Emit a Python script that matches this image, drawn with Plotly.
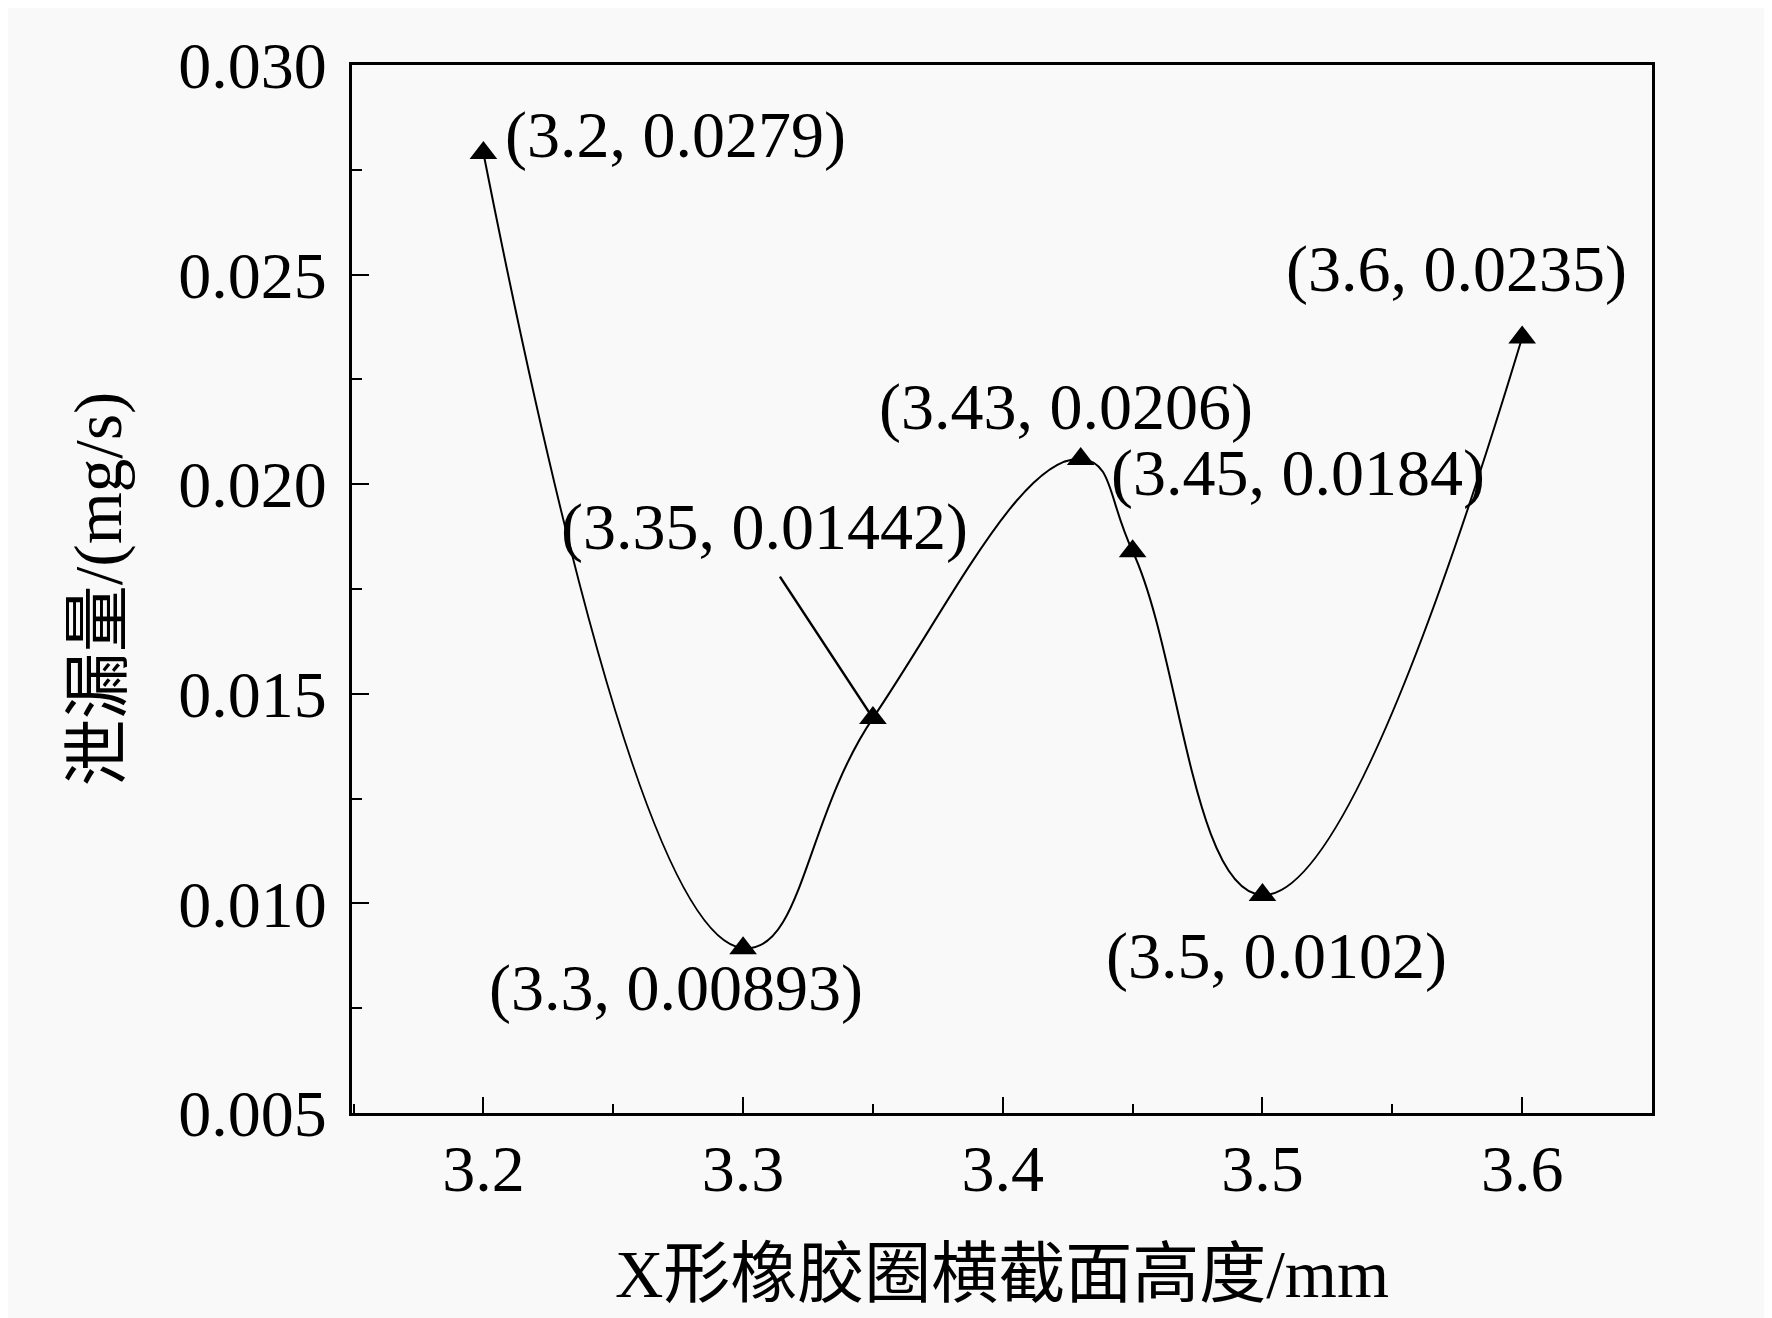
import plotly.graph_objects as go

# cross-section height (mm) vs leakage (mg/s)
height = [3.2, 3.3, 3.35, 3.43, 3.45, 3.5, 3.6]
leakage = [0.0279, 0.00893, 0.01442, 0.0206, 0.0184, 0.0102, 0.0235]
x_ticks = [3.2, 3.3, 3.4, 3.5, 3.6]
y_ticks = [0.005, 0.010, 0.015, 0.020, 0.025, 0.030]

# label offsets from each point, in pixels
label_dx = [20, -67, -108, -15, 165, 14, -66]
label_dy = [18, -40, 191, 52, 78, -61, 68]
label_anchor = ["left", "center", "center", "center", "center", "center", "center"]

font = "Liberation Serif, Times New Roman, Noto Sans CJK SC"

fig = go.Figure()
fig.add_trace(go.Scatter(
    x=height, y=leakage, mode="lines+markers",
    line=dict(color="black", width=2, shape="spline", smoothing=1.3),
    marker=dict(symbol="triangle-up", size=24, color="black"),
    showlegend=False))

for i in range(len(height)):
    fig.add_annotation(
        x=height[i], y=leakage[i], text=f"({height[i]}, {leakage[i]})",
        showarrow=False, xanchor=label_anchor[i], yanchor="middle",
        xshift=label_dx[i], yshift=label_dy[i],
        font=dict(family=font, size=66, color="black"))

# pointer line for the 3.35 label
fig.add_annotation(x=height[2], y=leakage[2], text="", showarrow=True,
                   arrowhead=0, arrowwidth=2.5, arrowcolor="black",
                   ax=-94, ay=-143, standoff=6)

axis_common = dict(
    showline=True, linecolor="black", linewidth=3, mirror=True,
    showgrid=False, zeroline=False, ticks="inside", tickcolor="black",
    tickwidth=2, tickfont=dict(family=font, size=66, color="black"))

fig.update_xaxes(
    range=[3.1494, 3.65], tickvals=x_ticks, ticklen=16,
    ticktext=[str(v) for v in x_ticks],
    minor=dict(dtick=0.05, ticks="inside", ticklen=9, tickcolor="black", tickwidth=2),
    ticklabelstandoff=-4,
    title=dict(text="X形橡胶圈横截面高度/mm", standoff=46,
               font=dict(family=font, size=67, color="black")),
    **axis_common)
fig.update_yaxes(
    range=[0.005, 0.030], tickvals=y_ticks, ticklen=17,
    ticktext=[f"{v:.3f}" for v in y_ticks],
    minor=dict(dtick=0.0025, ticks="inside", ticklen=10, tickcolor="black", tickwidth=2),
    ticklabelstandoff=9,
    title=dict(text="泄漏量/(mg/s)", standoff=35,
               font=dict(family=font, size=67, color="black")),
    **axis_common)

fig.update_layout(
    width=1772, height=1318,
    margin=dict(l=344, r=128, t=57, b=213, autoexpand=False),
    paper_bgcolor="#f9f9f9", plot_bgcolor="#f9f9f9")

fig.write_html("out.html")
